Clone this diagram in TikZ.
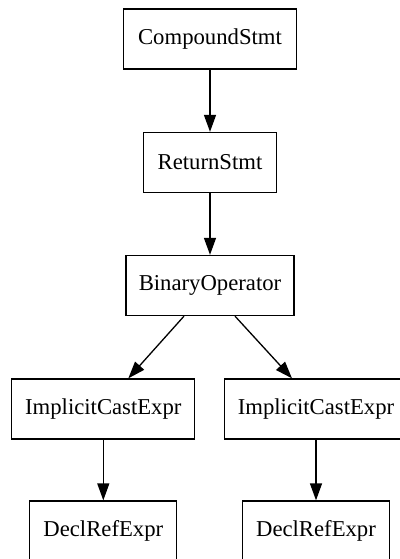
\documentclass[tikz,border=0pt]{standalone}
\usepackage{fontspec}
\setmainfont{Liberation Serif}
\usetikzlibrary{arrows.meta}
\begin{document}
\begin{tikzpicture}[x=1pt,y=-1pt,
  astnode/.style={draw, line width=1.3pt, rectangle, minimum height=60pt, inner sep=0pt,
    font=\fontsize{22.7pt}{27pt}\selectfont},
  edge/.style={line width=1.3pt, -{Triangle[length=17pt,width=12pt]}}]
  \useasboundingbox (0,0) rectangle (399,559);
  \node[astnode, minimum width=173pt] (cs) at (210,39) {CompoundStmt};
  \node[astnode, minimum width=133pt] (rs) at (210,162.5) {ReturnStmt};
  \node[astnode, minimum width=168pt] (bo) at (210,285.5) {BinaryOperator};
  \node[astnode, minimum width=183pt] (icl) at (103.3,409) {ImplicitCastExpr};
  \node[astnode, minimum width=183pt] (icr) at (316,409) {ImplicitCastExpr};
  \node[astnode, minimum width=147pt] (drl) at (103.3,531) {DeclRefExpr};
  \node[astnode, minimum width=147pt] (drr) at (316,531) {DeclRefExpr};
  \draw[edge] (cs) -- (rs);
  \draw[edge] (rs) -- (bo);
  \draw[edge] ([xshift=-26pt]bo.south) -- ([xshift=25pt]icl.north);
  \draw[edge] ([xshift=25pt]bo.south) -- ([xshift=-24pt]icr.north);
  \draw[edge] (icl) -- (drl);
  \draw[edge] (icr) -- (drr);
\end{tikzpicture}
\end{document}
